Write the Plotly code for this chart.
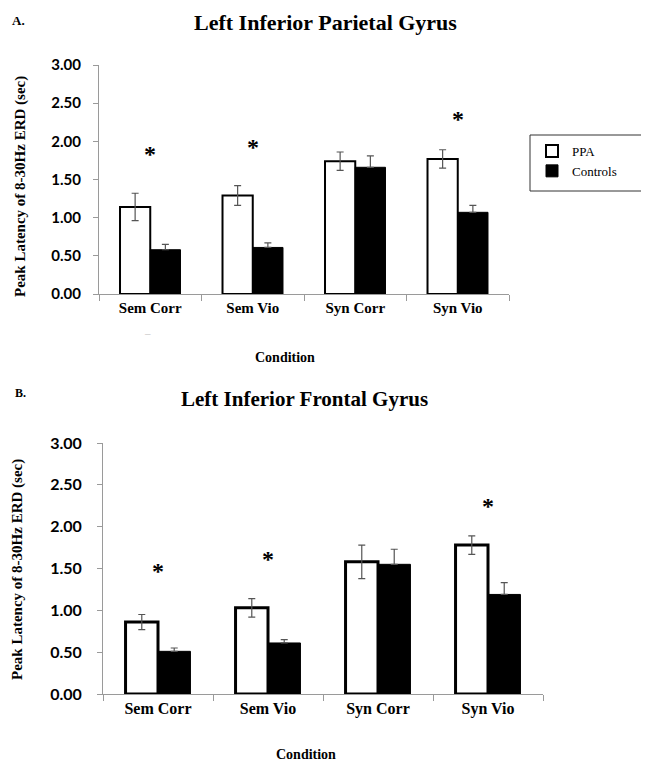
import plotly.graph_objects as go

W, H = 649, 761
OFF = 8  # page body margin of the browser

conditions = ["Sem Corr", "Sem Vio", "Syn Corr", "Syn Vio"]

parietal_ppa = [1.14, 1.29, 1.74, 1.77]
parietal_ppa_err = [0.18, 0.13, 0.12, 0.12]
parietal_ctrl = [0.58, 0.61, 1.66, 1.07]
parietal_ctrl_err = [0.07, 0.06, 0.15, 0.09]

frontal_ppa = [0.86, 1.03, 1.58, 1.78]
frontal_ppa_err = [0.09, 0.11, 0.20, 0.11]
frontal_ctrl = [0.51, 0.61, 1.55, 1.19]
frontal_ctrl_err = [0.04, 0.04, 0.18, 0.14]

star_conditions = ["Sem Corr", "Sem Vio", "Syn Vio"]
parietal_star_y = [1.83, 1.93, 2.29]
frontal_star_y = [1.47, 1.61, 2.25]

y_ticks = [0, 0.5, 1.0, 1.5, 2.0, 2.5, 3.0]

SERIF = "Liberation Serif"
SANS = "Lato"
AXIS_GREY = "#9a9a9a"
ERR_GREY = "#555555"


def px_x(v):
    return (v - OFF) / W


def px_y(v):
    return 1 - (v - OFF) / H


def upper_only(errs):
    return [0 for _ in errs]


fig = go.Figure()

# Panel A
fig.add_trace(go.Bar(
    x=conditions, y=parietal_ppa, name="PPA",
    marker=dict(color="white", line=dict(color="black", width=2)),
    error_y=dict(type="data", array=parietal_ppa_err, color=ERR_GREY, thickness=1.2, width=3.5),
    xaxis="x", yaxis="y", legendgroup="ppa", showlegend=True,
))
fig.add_trace(go.Bar(
    x=conditions, y=parietal_ctrl, name="Controls",
    marker=dict(color="black", line=dict(color="black", width=1)),
    error_y=dict(type="data", symmetric=False, array=parietal_ctrl_err,
                 arrayminus=upper_only(parietal_ctrl_err),
                 color=ERR_GREY, thickness=1.2, width=3.5),
    xaxis="x", yaxis="y", legendgroup="ctrl", showlegend=True,
))

# Panel B
fig.add_trace(go.Bar(
    x=conditions, y=frontal_ppa, name="PPA",
    marker=dict(color="white", line=dict(color="black", width=3)),
    error_y=dict(type="data", array=frontal_ppa_err, color=ERR_GREY, thickness=1.2, width=3.5),
    xaxis="x2", yaxis="y2", legendgroup="ppa", showlegend=False,
))
fig.add_trace(go.Bar(
    x=conditions, y=frontal_ctrl, name="Controls",
    marker=dict(color="black", line=dict(color="black", width=1)),
    error_y=dict(type="data", symmetric=False, array=frontal_ctrl_err,
                 arrayminus=upper_only(frontal_ctrl_err),
                 color=ERR_GREY, thickness=1.2, width=3.5),
    xaxis="x2", yaxis="y2", legendgroup="ctrl", showlegend=False,
))

xaxis_common = dict(
    type="category", range=[-0.5, 3.5], showline=True, linecolor=AXIS_GREY, linewidth=1,
    ticks="outside", tickson="boundaries", ticklen=6, tickcolor=AXIS_GREY, tickwidth=1,
    showgrid=False, zeroline=False, fixedrange=True,
)
yaxis_common = dict(
    range=[0, 3], tickmode="array", tickvals=y_ticks, tickformat=".2f",
    showline=True, linecolor=AXIS_GREY, linewidth=1,
    ticks="outside", ticklen=5, tickcolor=AXIS_GREY, tickwidth=1,
    showgrid=False, zeroline=False, fixedrange=True,
)

annotations = []


def ann(text, x, y, size, family=SERIF, bold=True, color="black", angle=0, xanchor="center"):
    annotations.append(dict(
        text=text, x=x, y=y, xref="paper", yref="paper", showarrow=False,
        xanchor=xanchor, yanchor="middle", textangle=angle,
        font=dict(family=family, size=size, color=color, weight="bold" if bold else "normal"),
    ))


# Panel titles and labels
ann("A.", px_x(10), px_y(20), 13, xanchor="left")
ann("Left Inferior Parietal Gyrus", px_x(325), px_y(22), 22)
ann("Peak Latency of 8-30Hz ERD (sec)", px_x(20), px_y(187), 15, angle=-90)
ann("Condition", px_x(285), px_y(358), 14)
ann("–", px_x(147), px_y(333), 11, bold=False, color="#bdbdbd")

ann("B.", px_x(13), px_y(393), 12, xanchor="left")
ann("Left Inferior Frontal Gyrus", px_x(304), px_y(399), 21)
ann("Peak Latency of 8-30Hz ERD (sec)", px_x(17), px_y(570), 15, angle=-90)
ann("Condition", px_x(306), px_y(754), 14)

# Significance asterisks (data coordinates)
for c, yv in zip(star_conditions, parietal_star_y):
    annotations.append(dict(text="*", x=c, y=yv, xref="x", yref="y", showarrow=False,
                            yanchor="middle",
                            font=dict(family=SERIF, size=24, color="black", weight="bold")))
for c, yv in zip(star_conditions, frontal_star_y):
    annotations.append(dict(text="*", x=c, y=yv, xref="x2", yref="y2", showarrow=False,
                            yanchor="middle",
                            font=dict(family=SERIF, size=24, color="black", weight="bold")))

fig.update_layout(
    width=W, height=H,
    margin=dict(l=0, r=0, t=0, b=0, autoexpand=False),
    paper_bgcolor="white", plot_bgcolor="white",
    barmode="group", bargap=0.41, bargroupgap=0,
    xaxis=dict(domain=[px_x(99), px_x(509)], anchor="y",
               tickfont=dict(family=SERIF, size=15, color="black", weight="bold"),
               **xaxis_common),
    yaxis=dict(domain=[px_y(294), px_y(65)], anchor="x",
               tickfont=dict(family=SANS, size=15, color="black", weight="bold"),
               ticklabelstandoff=9, **yaxis_common),
    xaxis2=dict(domain=[px_x(103), px_x(543)], anchor="y2",
                tickfont=dict(family=SERIF, size=16, color="black", weight="bold"),
                **xaxis_common),
    yaxis2=dict(domain=[px_y(694), px_y(443)], anchor="x2",
                tickfont=dict(family=SANS, size=16, color="black", weight="bold"),
                ticklabelstandoff=12, **yaxis_common),
    legend=dict(
        x=px_x(532), y=px_y(136), xanchor="left", yanchor="top",
        bgcolor="rgba(0,0,0,0)", borderwidth=0,
        font=dict(family=SERIF, size=13, color="black"),
        tracegroupgap=0, itemwidth=30,
    ),
    shapes=[dict(type="rect", xref="paper", yref="paper",
                 x0=px_x(530), x1=1.05, y0=px_y(191), y1=px_y(135),
                 line=dict(color="#333333", width=1), fillcolor="rgba(0,0,0,0)")],
    annotations=annotations,
    showlegend=True,
)

fig.write_html("out.html")
